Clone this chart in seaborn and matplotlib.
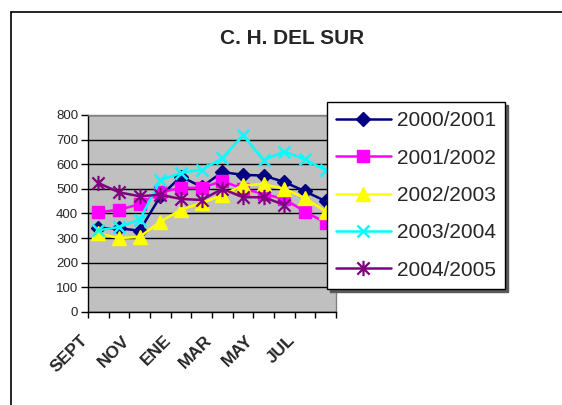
import numpy as np
import pandas as pd
import matplotlib
matplotlib.use("Agg")
import matplotlib.pyplot as plt
from matplotlib.path import Path
from matplotlib.lines import Line2D
from matplotlib.transforms import ScaledTranslation
import seaborn as sns

months = ["SEPT", "OCT", "NOV", "DIC", "ENE", "FEB", "MAR", "ABR", "MAY", "JUN", "JUL", "AGO"]
s2000_2001 = [340, 340, 330, 470, 550, 508, 568, 557, 554, 528, 490, 450]
s2001_2002 = [405, 415, 438, 486, 504, 504, 532, 500, 480, 458, 408, 362]
s2002_2003 = [320, 300, 305, 367, 415, 443, 474, 515, 519, 500, 463, 408]
s2003_2004 = [332, 345, 375, 535, 565, 578, 624, 718, 617, 651, 620, 575]
s2004_2005 = [524, 486, 470, 476, 459, 455, 500, 466, 466, 435, np.nan, np.nan]
series_names = ["2000/2001", "2001/2002", "2002/2003", "2003/2004", "2004/2005"]
title = "C. H. DEL SUR"
y_ticks = [0, 100, 200, 300, 400, 500, 600, 700, 800]

sns.set_theme(style="white")
plt.rcParams['font.family'] = ['Liberation Sans', 'DejaVu Sans']

asterisk = Path([(-1, -1), (1, 1), (-1, 1), (1, -1), (0, -1.25), (0, 1.25)],
                [Path.MOVETO, Path.LINETO, Path.MOVETO, Path.LINETO, Path.MOVETO, Path.LINETO])

styles = [
    dict(color="#000080", marker="D", ms=7.5, mew=1.0),
    dict(color="#FF00FF", marker="s", ms=9, mew=1.0),
    dict(color="#FFFF00", marker="^", ms=10, mew=1.0),
    dict(color="#00FFFF", marker="x", ms=9, mew=1.8),
    dict(color="#800080", marker=asterisk, ms=11, mew=1.6),
]
all_vals = [s2000_2001, s2001_2002, s2002_2003, s2003_2004, s2004_2005]

fig = plt.figure(figsize=(5.62, 4.05), dpi=100)
fig.patch.set_facecolor("white")
ax = fig.add_axes([88/562, 1-312/405, (336-88)/562, (312-115)/405])
ax.set_facecolor("#C0C0C0")

x = np.arange(len(months))
handles = []
for name, vals, st in zip(series_names, all_vals, styles):
    df = pd.DataFrame({"x": x, "y": vals}).dropna()
    sns.lineplot(data=df, x="x", y="y", ax=ax, color=st["color"], marker=st["marker"],
                 markersize=st["ms"], markeredgewidth=st["mew"], markeredgecolor=st["color"],
                 markerfacecolor=st["color"], linewidth=1.8, sort=False, zorder=3)
    handles.append(Line2D([], [], color=st["color"], marker=st["marker"], markersize=st["ms"],
                          markeredgewidth=st["mew"], markeredgecolor=st["color"],
                          markerfacecolor=st["color"], linewidth=1.8, label=name))

ax.set_xlim(-0.5, 11.5)
ax.set_ylim(0, 800)
ax.set_yticks(y_ticks)
ax.set_yticklabels([str(v) for v in y_ticks], fontsize=9.5)
ax.yaxis.grid(True, color="black", linewidth=1.0)
ax.xaxis.grid(False)
ax.set_axisbelow(True)
ax.set_xticks(np.arange(-0.5, 12, 1))
ax.set_xticklabels([])
ax.set_xticks(x[::2], minor=True)
ax.set_xticklabels(months[::2], minor=True, rotation=45, ha="right", va="top",
                   rotation_mode="anchor", fontsize=12.5, fontweight="bold")
ax.tick_params(axis="x", which="minor", length=0, pad=15)
ax.tick_params(axis="x", which="major", length=4, width=1, color="black", direction="out", bottom=True)
ax.tick_params(axis="y", length=5, width=1, color="black", direction="out", left=True, pad=2)
shift = ScaledTranslation(-18/100, 0, fig.dpi_scale_trans)
for lab in ax.xaxis.get_minorticklabels():
    lab.set_transform(lab.get_transform() + shift)
ax.set_xlabel("")
ax.set_ylabel("")
for side in ["left", "bottom"]:
    ax.spines[side].set_color("black")
    ax.spines[side].set_linewidth(1.0)
for side in ["top", "right"]:
    ax.spines[side].set_color("#808080")
    ax.spines[side].set_linewidth(1.0)

fig.text(292/562, 1-38/405, title, ha="center", va="center", fontsize=15, fontweight="bold")

leg = fig.legend(handles=handles, loc="upper left", bbox_to_anchor=(327/562, 1-102/405),
                 fontsize=15, frameon=True, fancybox=False, edgecolor="black",
                 handlelength=2.6, handletextpad=0.3, labelspacing=0.88, borderpad=0.45,
                 borderaxespad=0, shadow={"color": "0.35", "alpha": 1, "ox": 2, "oy": -2})
leg.get_frame().set_linewidth(1.0)
leg.get_frame().set_facecolor("white")

fig.add_artist(Line2D([11/562, 11/562], [0, 1-11.5/405], transform=fig.transFigure, color="black", lw=1.2))
fig.add_artist(Line2D([11/562, 1], [1-11.5/405, 1-11.5/405], transform=fig.transFigure, color="black", lw=1.2))

fig.savefig("out.png", dpi=100)
